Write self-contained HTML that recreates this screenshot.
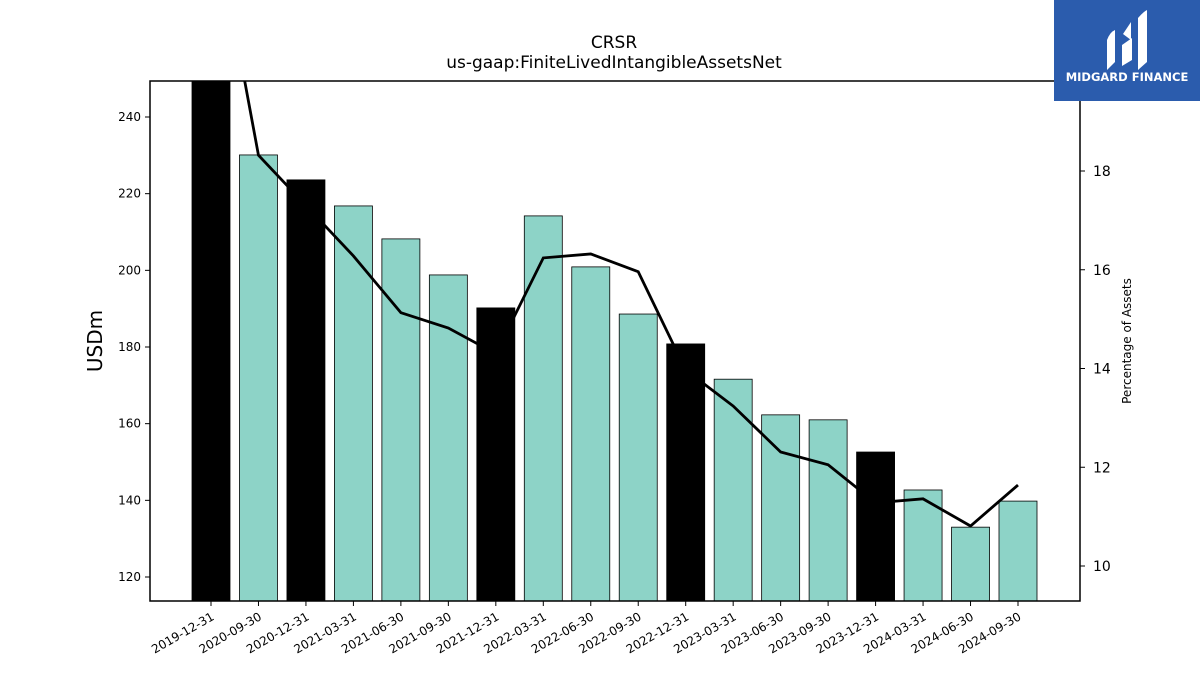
<!DOCTYPE html>
<html><head><meta charset="utf-8">
<style>
body{margin:0;background:#fff;font-family:"Liberation Sans","DejaVu Sans",sans-serif;}
svg text{font-family:"DejaVu Sans","Liberation Sans",sans-serif;}
</style></head>
<body>
<svg id="chart" width="1200" height="675" xmlns="http://www.w3.org/2000/svg">
<rect width="1200" height="675" fill="#fff"/>
<text x="614" y="48" font-size="17" text-anchor="middle">CRSR</text>
<text x="614" y="68" font-size="17" text-anchor="middle">us-gaap:FiniteLivedIntangibleAssetsNet</text>
<g id="plot"></g>
<text transform="translate(102,341) rotate(-90)" font-size="20" text-anchor="middle">USDm</text>
<text transform="translate(1131,341) rotate(-90)" font-size="12" text-anchor="middle">Percentage of Assets</text>
<g>
<rect x="1054" y="0" width="146" height="101" fill="#2b5cad"/>
<path d="M1107 70 L1107 40 Q1110 32 1115 30 L1115 62 Z M1122 66 L1122 45 L1132 38 L1132 60 Z M1138 70 L1138 18 Q1143 12 1147 10 L1147 62 Z M1123 34 L1131 22 L1131 40 Z" fill="#fff"/>
<text x="1127" y="81" font-size="11.5" font-weight="bold" fill="#fff" text-anchor="middle">MIDGARD FINANCE</text>
</g>
</svg>
<script>
const categories=["2019-12-31","2020-09-30","2020-12-31","2021-03-31","2021-06-30","2021-09-30","2021-12-31","2022-03-31","2022-06-30","2022-09-30","2022-12-31","2023-03-31","2023-06-30","2023-09-30","2023-12-31","2024-03-31","2024-06-30","2024-09-30"];
const barValues=[255,230.1,223.6,216.8,208.2,198.8,190.2,214.2,200.9,188.6,180.8,171.6,162.3,161,152.6,142.7,133,139.8];
const pctValues=[23.5,18.32,17.3,16.28,15.13,14.82,14.3,16.24,16.32,15.96,13.97,13.24,12.31,12.05,11.28,11.36,10.81,11.64];
const yTicks=[120,140,160,180,200,220,240];
const y2Ticks=[10,12,14,16,18];
const L=150,R=1080,T=81,B=601;
const x=i=>211+i*(1018-211)/17;
const y=v=>577-(v-120)*(460/120);
const y2=v=>566-(v-10)*(395/8);
const NS="http://www.w3.org/2000/svg";
const g=document.getElementById('plot');
function mk(t,a,p){const e=document.createElementNS(NS,t);for(const k in a)e.setAttribute(k,a[k]);(p||g).appendChild(e);return e;}
const defs=mk('defs',{});const cp=mk('clipPath',{id:'clip'},defs);mk('rect',{x:L,y:T,width:R-L,height:B-T},cp);
const bars=mk('g',{'clip-path':'url(#clip)'});
barValues.forEach((v,i)=>{
 const black=categories[i].endsWith('12-31');
 const r=mk('rect',{x:x(i)-19,y:y(v),width:38,height:B-y(v),fill:black?'#000':'#8dd3c7',stroke:'#000','stroke-width':0.8},bars);
 
 
});
const ln=mk('polyline',{points:pctValues.map((v,i)=>x(i)+','+y2(v)).join(' '),fill:'none',stroke:'#000','stroke-width':2.8,'clip-path':'url(#clip)'});


mk('rect',{x:L,y:T,width:R-L,height:B-T,fill:'none',stroke:'#000','stroke-width':1.5});
yTicks.forEach(v=>{mk('line',{x1:L-5,x2:L,y1:y(v),y2:y(v),stroke:'#000'});
 const t=mk('text',{x:L-9,y:y(v)+4,'font-size':12,'text-anchor':'end'});t.textContent=v;
 });
y2Ticks.forEach(v=>{mk('line',{x1:R,x2:R+5,y1:y2(v),y2:y2(v),stroke:'#000'});
 const t=mk('text',{x:R+13,y:y2(v)+5,'font-size':14});t.textContent=v;
 });
categories.forEach((c,i)=>{mk('line',{x1:x(i),x2:x(i),y1:B,y2:B+5,stroke:'#000'});
 const t=mk('text',{transform:`translate(${x(i)+4},${B+18}) rotate(-30)`,'font-size':12,'text-anchor':'end'});t.textContent=c;
 });
</script>
</body></html>
